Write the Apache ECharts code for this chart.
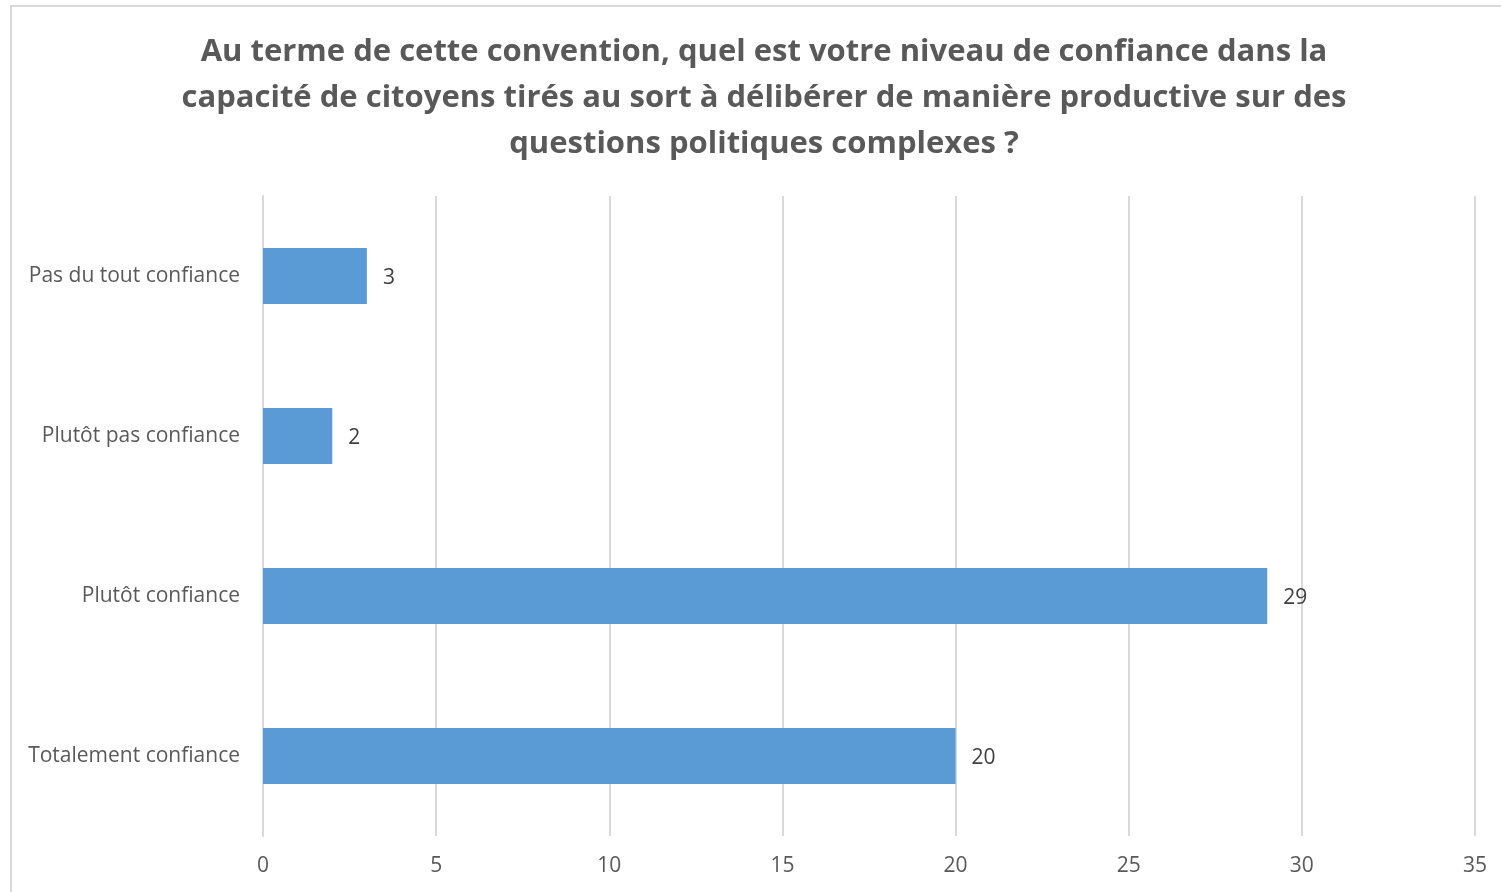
<!DOCTYPE html>
<html>
<head>
<meta charset="utf-8">
<script src="https://cdn.jsdelivr.net/npm/echarts@6/dist/echarts.min.js"></script>
<style>
  html, body { margin: 0; padding: 0; background: #fff; }
  #chart { width: 1501px; height: 892px; }
</style>
</head>
<body>
<div id="chart"></div>
<script>
// Survey answers, listed top to bottom
const categories = [
  'Pas du tout confiance',
  'Plutôt pas confiance',
  'Plutôt confiance',
  'Totalement confiance'
];
const counts = [3, 2, 29, 20];
const titleLines = [
  'Au terme de cette convention, quel est votre niveau de confiance dans la',
  'capacité de citoyens tirés au sort à délibérer de manière productive sur des',
  'questions politiques complexes ?'
];

const FONT = '"Open Sans", Lato, sans-serif';
const chart = echarts.init(document.getElementById('chart'));

chart.setOption({
  backgroundColor: '#ffffff',
  animation: false,
  title: {
    text: titleLines.join('\n'),
    left: 759,
    top: 24,
    textAlign: 'center',
    textStyle: {
      fontFamily: FONT,
      fontSize: 31,
      fontWeight: 'bold',
      color: '#595959',
      lineHeight: 46
    }
  },
  graphic: [{
    type: 'rect',
    shape: { x: 11, y: 6, width: 1500, height: 900 },
    style: { fill: 'none', stroke: '#d9d9d9', lineWidth: 2 },
    silent: true
  }],
  grid: { left: 263, right: 26, top: 196, bottom: 56, containLabel: false },
  xAxis: {
    type: 'value',
    min: 0,
    max: 35,
    interval: 5,
    axisLine: { show: false },
    axisTick: { show: false },
    splitLine: { show: true, lineStyle: { color: '#d9d9d9', width: 2 } },
    axisLabel: { margin: 20, fontFamily: FONT, fontSize: 21, color: '#595959' }
  },
  yAxis: {
    type: 'category',
    inverse: true,
    data: categories,
    axisLine: { show: true, lineStyle: { color: '#d9d9d9', width: 2 } },
    axisTick: { show: false },
    axisLabel: { margin: 23, fontFamily: FONT, fontSize: 21, color: '#595959', padding: [2, 0, 0, 0] }
  },
  series: [{
    type: 'bar',
    data: counts,
    barWidth: 56,
    itemStyle: { color: '#5b9bd5' },
    label: {
      show: true,
      position: 'right',
      distance: 16,
      offset: [0, 2],
      fontFamily: FONT,
      fontSize: 21,
      color: '#404040'
    }
  }]
});
</script>
</body>
</html>
